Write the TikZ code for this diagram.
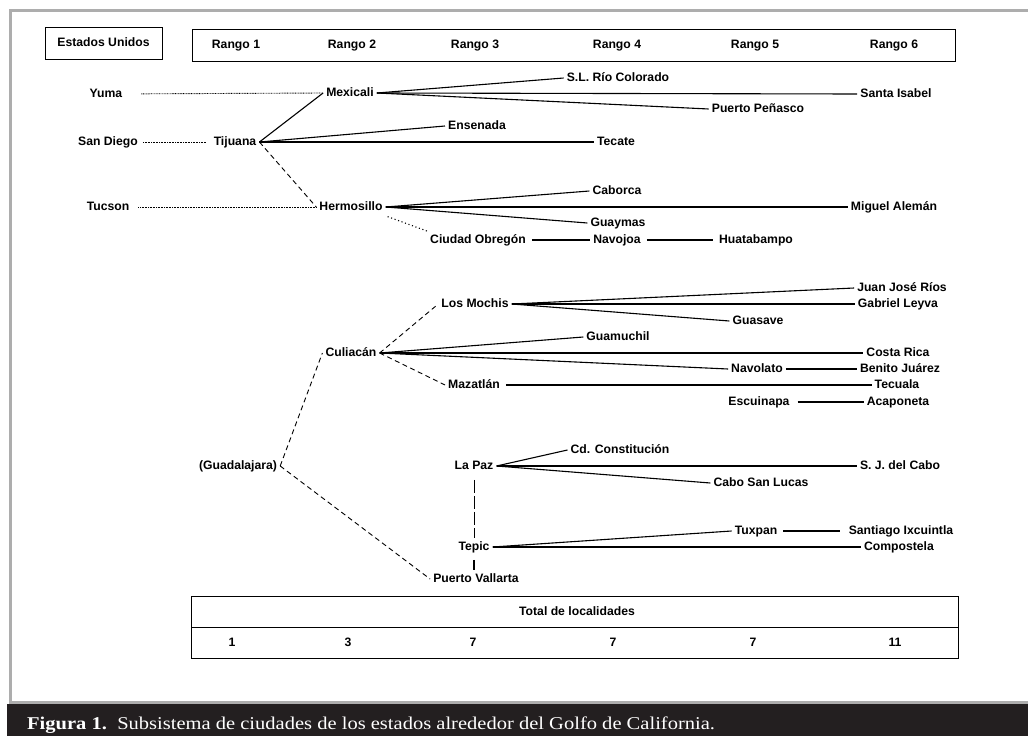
\documentclass[tikz,border=0pt]{standalone}
\usepackage{fontspec}
\setmainfont{Liberation Sans}
\newfontfamily\captionfont[FakeStretch=1.14]{Liberation Serif}
\usepackage{tikz}
\usetikzlibrary{positioning}
\definecolor{framegray}{HTML}{ADADAD}
\definecolor{captiondark}{HTML}{231F20}

\begin{document}
\begin{tikzpicture}
	[ x=1pt, y=-1pt,
		city/.style={inner sep=3pt,text height=9pt,text depth=2.5pt,font=\fontsize{12.2}{14}\selectfont\bfseries},
		headBox/.style={rectangle,draw,line width=0.9pt,inner sep=0pt,outer sep=0pt},
		lineSolid/.style={line width=1.1pt},
		lineDash/.style={line width=0.9pt,dash pattern=on 5pt off 3.5pt},
		lineLong/.style={line width=0.9pt,dash pattern=on 13pt off 3pt},
		lineDot/.style={line width=0.9pt,dash pattern=on 0.8pt off 0.8pt},
		lineDotWide/.style={line width=1.1pt,dash pattern=on 1.1pt off 2.6pt}]

	\useasboundingbox (0,0) rectangle (1028,736);
	\draw[framegray,line width=3pt] (1030,10) -- (10,10) -- (10,702) -- (1030,702);
	\fill[captiondark] (7,704) rectangle (1030,738);
	\node[anchor=base west,inner sep=0pt,text=white,font=\captionfont\fontsize{18}{20}\selectfont] (caption) at (27,729)
		{\textbf{Figura 1.}\ \ Subsistema de ciudades de los estados alrededor del Golfo de California.};

	\node[headBox,minimum width=117pt,minimum height=32pt] (eu box) at (103.5,43) {};
	\node[city] (estados unidos) at (eu box) {Estados Unidos};
	\node[headBox,minimum width=763pt,minimum height=32pt] (rango box) at (573.5,45) {};
	\foreach \r/\x in {1/236,2/352,3/475,4/617,5/755,6/894}
		\node[city] (rango \r) at (\x,45) {Rango \r};

	\node[city] (yuma) at (106,94) {Yuma};
	\node[city] (mexicali) at (350,93) {Mexicali};
	\node[city] (rio colorado) at (618,78) {S.L. Río Colorado};
	\node[city] (santa isabel) at (896,94) {Santa Isabel};
	\node[city] (penasco) at (758,109) {Puerto Peñasco};
	\node[city] (san diego) at (108,142) {San Diego};
	\node[city] (tijuana) at (235,142) {Tijuana};
	\node[city] (ensenada) at (477,126) {Ensenada};
	\node[city] (tecate) at (616,142) {Tecate};
	\node[city] (tucson) at (108,207) {Tucson};
	\node[city] (hermosillo) at (351,207) {Hermosillo};
	\node[city] (caborca) at (617,191) {Caborca};
	\node[city] (miguel aleman) at (894,207) {Miguel Alemán};
	\node[city] (guaymas) at (618,223) {Guaymas};
	\node[city] (obregon) at (478,240) {Ciudad Obregón};
	\node[city] (navojoa) at (617,240) {Navojoa};
	\node[city] (huatabampo) at (756,240) {Huatabampo};

	\node[city] (los mochis) at (475,304) {Los Mochis};
	\node[city] (jose rios) at (902,288) {Juan José Ríos};
	\node[city] (gabriel leyva) at (898,304) {Gabriel Leyva};
	\node[city] (guasave) at (758,321) {Guasave};
	\node[city] (culiacan) at (351,353) {Culiacán};
	\node[city] (guamuchil) at (618,337) {Guamuchil};
	\node[city] (costa rica) at (898,353) {Costa Rica};
	\node[city] (navolato) at (757,369) {Navolato};
	\node[city] (benito juarez) at (900,369) {Benito Juárez};
	\node[city] (mazatlan) at (474,385) {Mazatlán};
	\node[city] (tecuala) at (897,385) {Tecuala};
	\node[city] (escuinapa) at (759,402) {Escuinapa};
	\node[city] (acaponeta) at (898,402) {Acaponeta};
	\node[city] (guadalajara) at (238,466) {(Guadalajara)};
	\node[city] (la paz) at (474,466) {La Paz};
	\node[city] (constitucion) at (620,450) {Cd. Constitución};
	\node[city] (del cabo) at (900,466) {S. J. del Cabo};
	\node[city] (san lucas) at (761,483) {Cabo San Lucas};
	\node[city] (tepic) at (474,547) {Tepic};
	\node[city] (tuxpan) at (756,531) {Tuxpan};
	\node[city] (ixcuintla) at (901,531) {Santiago Ixcuintla};
	\node[city] (compostela) at (899,547) {Compostela};
	\node[city] (vallarta) at (476,579) {Puerto Vallarta};

	\node[headBox,minimum width=767pt,minimum height=31pt] (total box) at (574.5,611.5) {};
	\node[headBox,minimum width=767pt,minimum height=31pt] (count box) [below=0pt of total box] {};
	\node[city] (total) at (577,612) {Total de localidades};
	\foreach \n/\x/\v in {1/232/1,2/348/3,3/473/7,4/613/7,5/753/7,6/895/11}
		\node[city] (count \n) at (\x,643) {\v};

	\draw[lineDot,shorten <=16pt] (yuma) -- (mexicali.west);
	\draw[lineDot,shorten <=2pt,shorten >=5pt] (san diego) -- (tijuana);
	\draw[lineDot,shorten <=6pt] (tucson) -- (hermosillo.west);
	\draw[lineSolid] (tijuana.east) -- (mexicali.west);
	\draw[lineDash] (tijuana.east) -- (hermosillo.west);
	\draw[lineSolid] (mexicali.east) -- (rio colorado.west);
	\draw[lineSolid] (mexicali.east) -- (santa isabel.west);
	\draw[lineSolid] (mexicali.east) -- (penasco.west);
	\draw[lineSolid] (tijuana.east) -- (ensenada.west);
	\draw[lineSolid] (tijuana.east) -- (tecate.west);
	\draw[lineSolid] (hermosillo.east) -- (caborca.west);
	\draw[lineSolid] (hermosillo.east) -- (miguel aleman.west);
	\draw[lineSolid] (hermosillo.east) -- (guaymas.west);
	\draw[lineDotWide,shorten <=2pt] (hermosillo.south east) -- (obregon.north west);
	\draw[lineSolid,shorten <=3pt] (obregon) -- (navojoa);
	\draw[lineSolid,shorten <=3pt,shorten >=3pt] (navojoa) -- (huatabampo);

	\draw[lineDash] (guadalajara.east) -- (culiacan.west);
	\draw[lineDash] (guadalajara.east) -- (vallarta.west);
	\draw[lineDash] (culiacan.east) -- (los mochis.west);
	\draw[lineDash] (culiacan.east) -- (mazatlan.west);
	\draw[lineSolid] (los mochis.east) -- (jose rios.west);
	\draw[lineSolid] (los mochis.east) -- (gabriel leyva.west);
	\draw[lineSolid] (los mochis.east) -- (guasave.west);
	\draw[lineSolid] (culiacan.east) -- (guamuchil.west);
	\draw[lineSolid] (culiacan.east) -- (costa rica.west);
	\draw[lineSolid] (culiacan.east) -- (navolato.west);
	\draw[lineSolid] (navolato) -- (benito juarez);
	\draw[lineSolid,shorten <=3pt] (mazatlan) -- (tecuala);
	\draw[lineSolid,shorten <=5pt] (escuinapa) -- (acaponeta);
	\draw[lineSolid] (la paz.east) -- (constitucion.west);
	\draw[lineSolid] (la paz.east) -- (del cabo.west);
	\draw[lineSolid] (la paz.east) -- (san lucas.west);
	\draw[lineLong,shorten <=5pt] (la paz) -- (tepic);
	\draw[lineSolid,shorten <=4pt] (tepic) -- (tepic |- vallarta.north);
	\draw[lineSolid] (tepic.east) -- (tuxpan.west);
	\draw[lineSolid] (tepic.east) -- (compostela.west);
	\draw[lineSolid,shorten <=3pt,shorten >=6pt] (tuxpan) -- (ixcuintla);
\end{tikzpicture}
\end{document}
